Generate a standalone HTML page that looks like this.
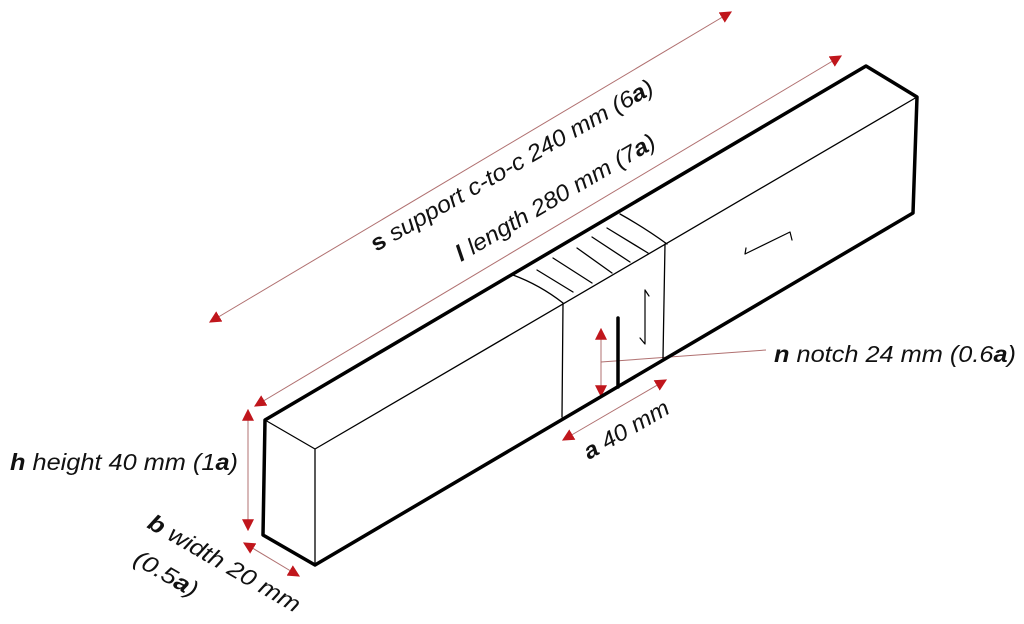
<!DOCTYPE html>
<html><head><meta charset="utf-8"><style>html,body{margin:0;padding:0;background:#fff}svg{display:block}</style></head>
<body>
<svg width="1024" height="624" viewBox="0 0 1024 624" xmlns="http://www.w3.org/2000/svg" font-family="Liberation Sans, sans-serif" font-style="italic">
<defs>
<marker id="ar" viewBox="0 0 10 10" refX="9" refY="5" markerWidth="12" markerHeight="12" markerUnits="userSpaceOnUse" orient="auto-start-reverse">
<path d="M0,0 L10,5 L0,10 z" fill="#c0161c"/></marker>
</defs>
<g stroke="#b07070" stroke-width="1" fill="none" marker-start="url(#ar)" marker-end="url(#ar)">
<line x1="210" y1="322" x2="731" y2="12"/>
<line x1="255" y1="406" x2="841" y2="56"/>
<line x1="248" y1="410" x2="248" y2="530"/>
<line x1="244" y1="543" x2="299" y2="576"/>
<line x1="563" y1="440" x2="666" y2="380"/>
<line x1="601" y1="329" x2="601" y2="396"/>
</g>
<line x1="601" y1="362" x2="766" y2="350" stroke="#b07070" stroke-width="1"/>
<g stroke="#000" fill="none" stroke-linecap="round" stroke-linejoin="round">
<path d="M263,535 L265,420 L866,66 L917,97 L913,213 L315,565 Z" stroke-width="3.5"/>
<path d="M265,420 L315,449 L917,97 M315,449 L315,565" stroke-width="1.3"/>
<path d="M513,275 Q540,285 563,303 M620,214 Q645,228 667,244 M563,303 L562,417 M665,244 L663,358" stroke-width="1.3"/>
<path d="M537,270 L573,292 M553,258 L592,283 M577,248 L612,273 M592,237 L630,262 M607,228 L648,253" stroke-width="1.3"/>
<line x1="618" y1="318" x2="618" y2="387" stroke-width="3.5"/>
<path d="M645,290 L645,344 L640,338 M645,290 L649,296" stroke-width="1.2"/>
<path d="M745,254 L790,232 L792,240 M745,254 L746,248" stroke-width="1.2"/>
</g>
<g fill="#111" font-size="23">
<text transform="translate(376,252) rotate(-29.8)" textLength="322" lengthAdjust="spacingAndGlyphs"><tspan font-weight="bold" font-style="normal">s</tspan> support c-to-c 240 mm (6<tspan font-weight="bold">a</tspan>)</text>
<text transform="translate(461,262) rotate(-30.5)" textLength="228" lengthAdjust="spacingAndGlyphs"><tspan font-weight="bold">l</tspan> length 280 mm (7<tspan font-weight="bold">a</tspan>)</text>
<text x="10" y="470" textLength="228" lengthAdjust="spacingAndGlyphs"><tspan font-weight="bold">h</tspan> height 40 mm (1<tspan font-weight="bold">a</tspan>)</text>
<text x="774" y="362" textLength="242" lengthAdjust="spacingAndGlyphs"><tspan font-weight="bold">n</tspan> notch 24 mm (0.6<tspan font-weight="bold">a</tspan>)</text>
<text transform="translate(589,460) rotate(-30)" textLength="95" lengthAdjust="spacingAndGlyphs"><tspan font-weight="bold">a</tspan> 40 mm</text>
<text transform="translate(146,527) rotate(30)" textLength="172" lengthAdjust="spacingAndGlyphs"><tspan font-weight="bold">b</tspan> width 20 mm</text>
<text transform="translate(132,563) rotate(30)" textLength="70" lengthAdjust="spacingAndGlyphs">(0.5<tspan font-weight="bold">a</tspan>)</text>
</g>
</svg>
</body></html>
